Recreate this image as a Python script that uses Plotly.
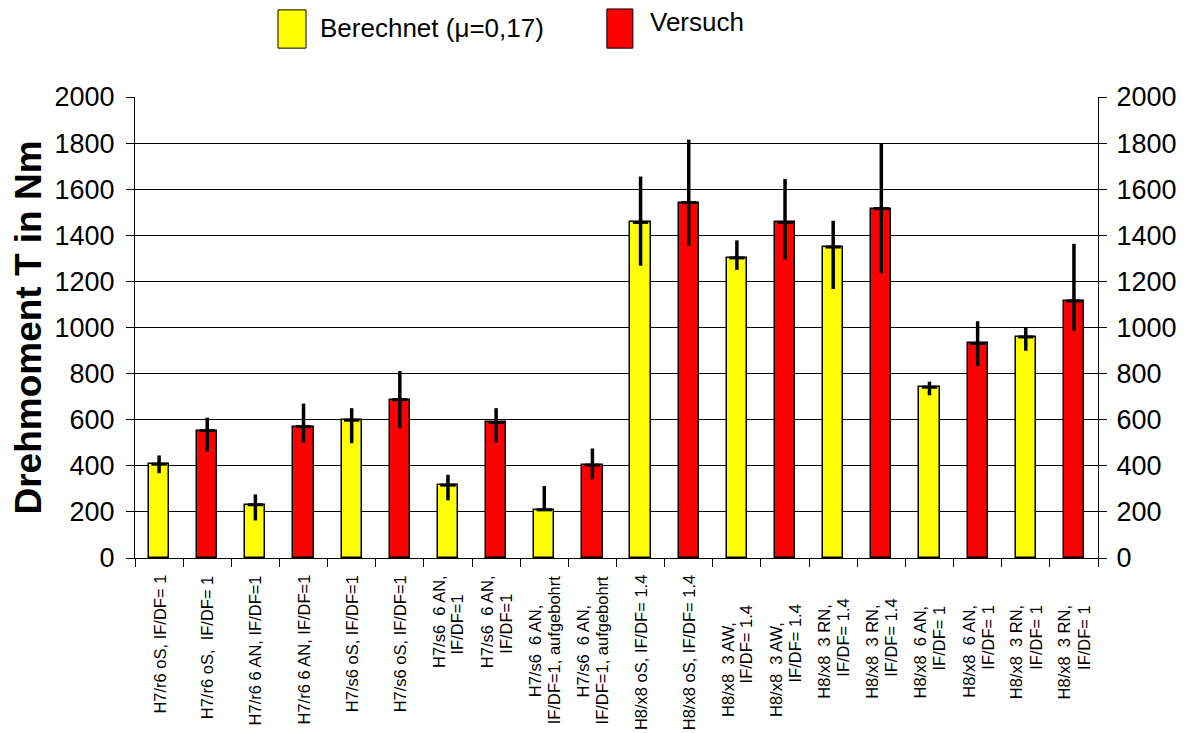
import plotly.graph_objects as go

NB = "\u00a0"
labels = [
    "H7/r6 oS, IF/DF= 1",
    "H7/r6 oS," + NB + " IF/DF= 1",
    "H7/r6 6 AN, IF/DF=1",
    "H7/r6 6 AN, IF/DF=1",
    "H7/s6 oS, IF/DF=1",
    "H7/s6 oS, IF/DF=1",
    "H7/s6" + NB + " 6 AN,<br>IF/DF=1",
    "H7/s6" + NB + " 6 AN,<br>IF/DF=1",
    "H7/s6" + NB + " 6 AN,<br>IF/DF=1, aufgebohrt",
    "H7/s6" + NB + " 6 AN,<br>IF/DF=1, aufgebohrt",
    "H8/x8 oS, IF/DF= 1.4",
    "H8/x8 oS, IF/DF= 1.4",
    "H8/x8" + NB + " 3 AW,<br>IF/DF= 1.4",
    "H8/x8" + NB + " 3 AW,<br>IF/DF= 1.4",
    "H8/x8" + NB + " 3 RN,<br>IF/DF= 1.4",
    "H8/x8" + NB + " 3 RN,<br>IF/DF= 1.4",
    "H8/x8" + NB + " 6 AN,<br>IF/DF= 1",
    "H8/x8" + NB + " 6 AN,<br>IF/DF= 1",
    "H8/x8" + NB + " 3 RN,<br>IF/DF= 1",
    "H8/x8" + NB + " 3 RN,<br>IF/DF= 1",
]
# label layout (styling only): offset of each wrapped line below the axis, px
label_offsets = ([[15]] * 6 + [[15, 34]] * 2 + [[44, 15]] * 2 + [[15]] * 2
                 + [[62, 45]] * 2 + [[45, 39]] * 2 + [[45, 45]] * 4)
LINE_PITCH = 19

values = [407, 553, 231, 570, 598, 687, 316, 588, 209, 403,
          1456, 1542, 1302, 1456, 1349, 1516, 741, 931, 959, 1115]
err_high = [445, 609, 276, 670, 650, 811, 361, 650, 312, 475,
            1655, 1815, 1378, 1645, 1463, 1799, 765, 1027, 998, 1363]
err_low = [368, 462, 163, 501, 498, 563, 250, 501, 209, 342,
           1268, 1354, 1250, 1295, 1167, 1235, 706, 833, 899, 985]

series_names = ["Berechnet (μ=0,17)", "Versuch"]
series_colors = ["#FFFF00", "#FF0000"]

FONT = "Liberation Sans, Arial, sans-serif"

fig = go.Figure()
idx = list(range(len(values)))
for s in range(2):
    xs = [i for i in idx if i % 2 == s]
    fig.add_trace(go.Bar(
        x=xs, y=[values[i] for i in xs],
        name=series_names[s],
        marker=dict(color=series_colors[s], line=dict(color="black", width=1.5)),
        width=0.42, showlegend=False,
    ))

fig.add_trace(go.Scatter(
    x=idx, y=values, mode="markers",
    marker=dict(symbol="line-ew", size=11, line=dict(color="black", width=3), color="black"),
    error_y=dict(type="data", symmetric=False,
                 array=[h - v for h, v in zip(err_high, values)],
                 arrayminus=[v - l for v, l in zip(values, err_low)],
                 thickness=3.5, width=0, color="black"),
    showlegend=False, hoverinfo="skip",
))

# invisible trace for right axis
fig.add_trace(go.Scatter(x=[0], y=[0], yaxis="y2", mode="markers",
                         marker=dict(opacity=0), showlegend=False, hoverinfo="skip"))

# category labels (one annotation per wrapped line)
for i, lab in enumerate(labels):
    lines = lab.split("<br>")
    n = len(lines)
    for j, line in enumerate(lines):
        fig.add_annotation(xref="x", yref="paper", x=i, y=0, text=line, showarrow=False,
                           textangle=-90, xanchor="center", yanchor="top",
                           xshift=(j - (n - 1) / 2) * LINE_PITCH,
                           yshift=-label_offsets[i][j],
                           font=dict(size=16.5, color="black", family=FONT))

# Legend drawn as boxes + text
legend_boxes = [(0.1485, 0.1776, 1.106, 1.189), (0.490, 0.517, 1.106, 1.191)]
legend_text_pos = [(0.190, 1.150), (0.533, 1.163)]
for s in range(2):
    x0, x1, y0, y1 = legend_boxes[s]
    fig.add_shape(type="rect", xref="paper", yref="paper", x0=x0, x1=x1, y0=y0, y1=y1,
                  fillcolor=series_colors[s], line=dict(color="black", width=1))
    tx, ty = legend_text_pos[s]
    fig.add_annotation(xref="paper", yref="paper", x=tx, y=ty, text=series_names[s],
                       showarrow=False, xanchor="left", yanchor="middle",
                       font=dict(size=26, color="black", family=FONT))

boundaries = [i - 0.5 for i in range(len(values) + 1)]

fig.update_layout(
    width=1181, height=725,
    margin=dict(l=127, r=91, t=89, b=175),
    paper_bgcolor="white", plot_bgcolor="white",
    font=dict(family=FONT, color="black"),
    barmode="overlay",
    bargap=0,
    xaxis=dict(
        range=[-0.5, len(values) - 0.5], automargin=False,
        tickmode="array", tickvals=idx, showticklabels=False,
        ticks="", showgrid=False, zeroline=False,
        showline=True, linecolor="black", linewidth=1,
        minor=dict(tickmode="array", tickvals=boundaries, ticks="outside",
                   ticklen=8, tickcolor="black", showgrid=False),
    ),
    yaxis=dict(
        range=[0, 2000], tickvals=list(range(0, 2001, 200)), automargin=False,
        tickfont=dict(size=27), ticks="outside", ticklen=8, tickcolor="black",
        ticklabelstandoff=6,
        showline=True, linecolor="black", linewidth=1,
        showgrid=True, gridcolor="black", gridwidth=1, zeroline=False,
        title=dict(text="<b>Drehmoment T in Nm</b>", font=dict(size=37), standoff=8),
    ),
    yaxis2=dict(
        overlaying="y", side="right", anchor="x", automargin=False,
        range=[0, 2000], tickvals=list(range(0, 2001, 200)),
        tickfont=dict(size=27), ticks="outside", ticklen=8, tickcolor="black",
        ticklabelstandoff=4,
        showline=True, linecolor="black", linewidth=1,
        showgrid=False, zeroline=False,
    ),
)

fig.write_html("out.html")
